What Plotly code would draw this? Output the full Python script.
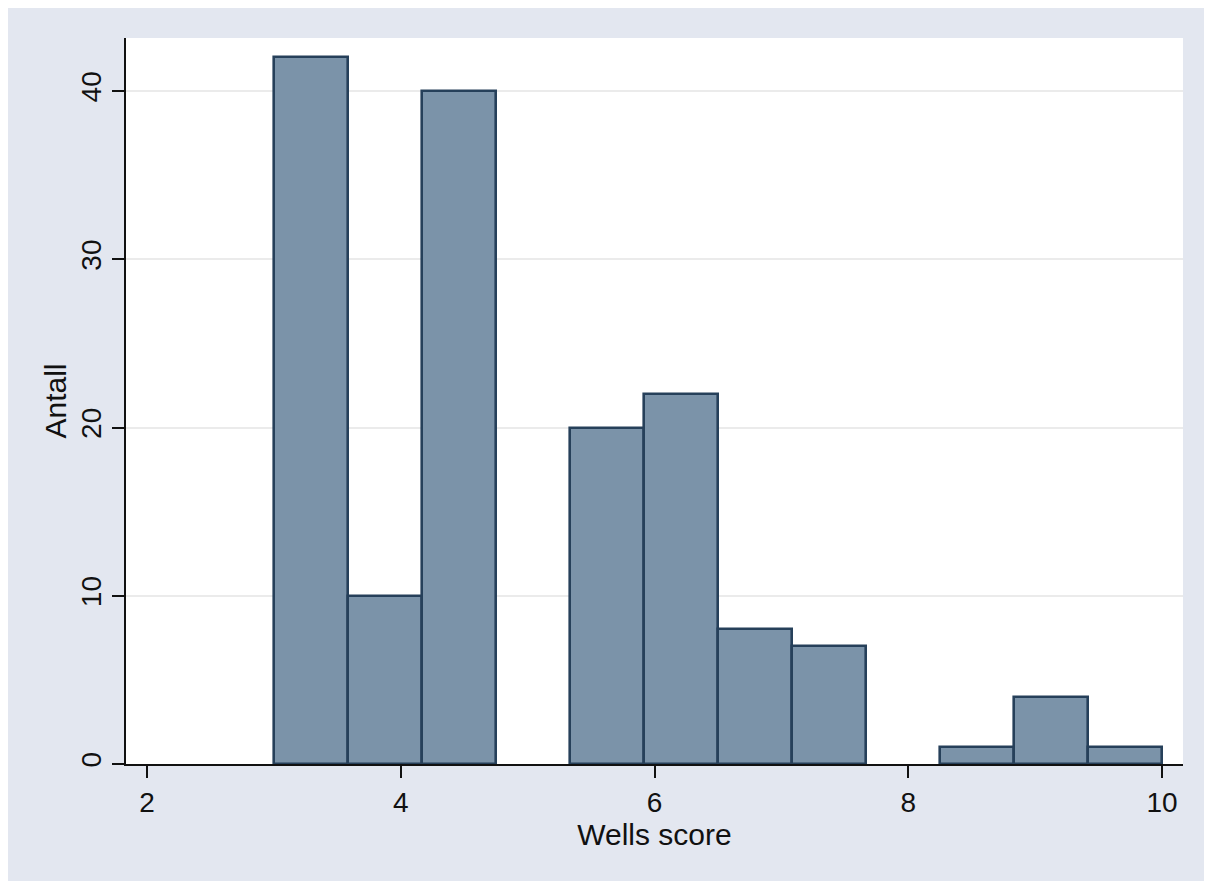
import plotly.graph_objects as go

# Histogram data (Wells score)
bin_start = 3.0
bin_end = 10.0
n_bins = 12
counts = [42, 10, 40, 0, 20, 22, 8, 7, 0, 1, 4, 1]
x_ticks = [2, 4, 6, 8, 10]
y_ticks = [0, 10, 20, 30, 40]

width = (bin_end - bin_start) / n_bins
edges = [bin_start + i * width for i in range(n_bins + 1)]
centers = [(edges[i] + edges[i + 1]) / 2 for i in range(n_bins)]
# empty bins draw nothing
bx = [c for c, n in zip(centers, counts) if n > 0]
by = [n for n in counts if n > 0]

BG = "#E3E7F0"
FONT = "Liberation Sans, Arial, Helvetica, sans-serif"

fig = go.Figure()
fig.add_trace(go.Bar(
    x=bx, y=by, width=width,
    marker=dict(color="#7B93A9", line=dict(color="#26405A", width=2.6)),
    hoverinfo="x+y",
))

W, H = 1204, 873
L, R, T, B = 118, 29, 30, 117

fig.update_layout(
    width=W, height=H,
    margin=dict(l=L, r=R, t=T, b=B, autoexpand=False),
    paper_bgcolor=BG, plot_bgcolor="white",
    font=dict(family=FONT, size=28, color="#111111"),
    showlegend=False,
    bargap=0,
)
fig.update_xaxes(
    range=[1.834, 10.165], tickvals=x_ticks, ticktext=[str(v) for v in x_ticks],
    showgrid=False, zeroline=False,
    showline=True, linecolor="#111111", linewidth=2,
    ticks="outside", ticklen=12, tickwidth=2, tickcolor="#111111",
    ticklabelstandoff=0,
    tickfont=dict(size=28),
    title=dict(text="Wells score", standoff=0, font=dict(size=30)),
)
fig.update_yaxes(
    range=[0, 43.15], tickvals=y_ticks, ticktext=[str(v) for v in y_ticks],
    showgrid=True, gridcolor="#EBEBEB", gridwidth=1.5, zeroline=False,
    showline=True, linecolor="#111111", linewidth=2,
    ticks="outside", ticklen=12, tickwidth=2, tickcolor="#111111",
    tickangle=-90, ticklabelstandoff=0,
    tickfont=dict(size=28),
    title=dict(text="Antall", standoff=0, font=dict(size=30)),
)

fig.write_html("out.html")
